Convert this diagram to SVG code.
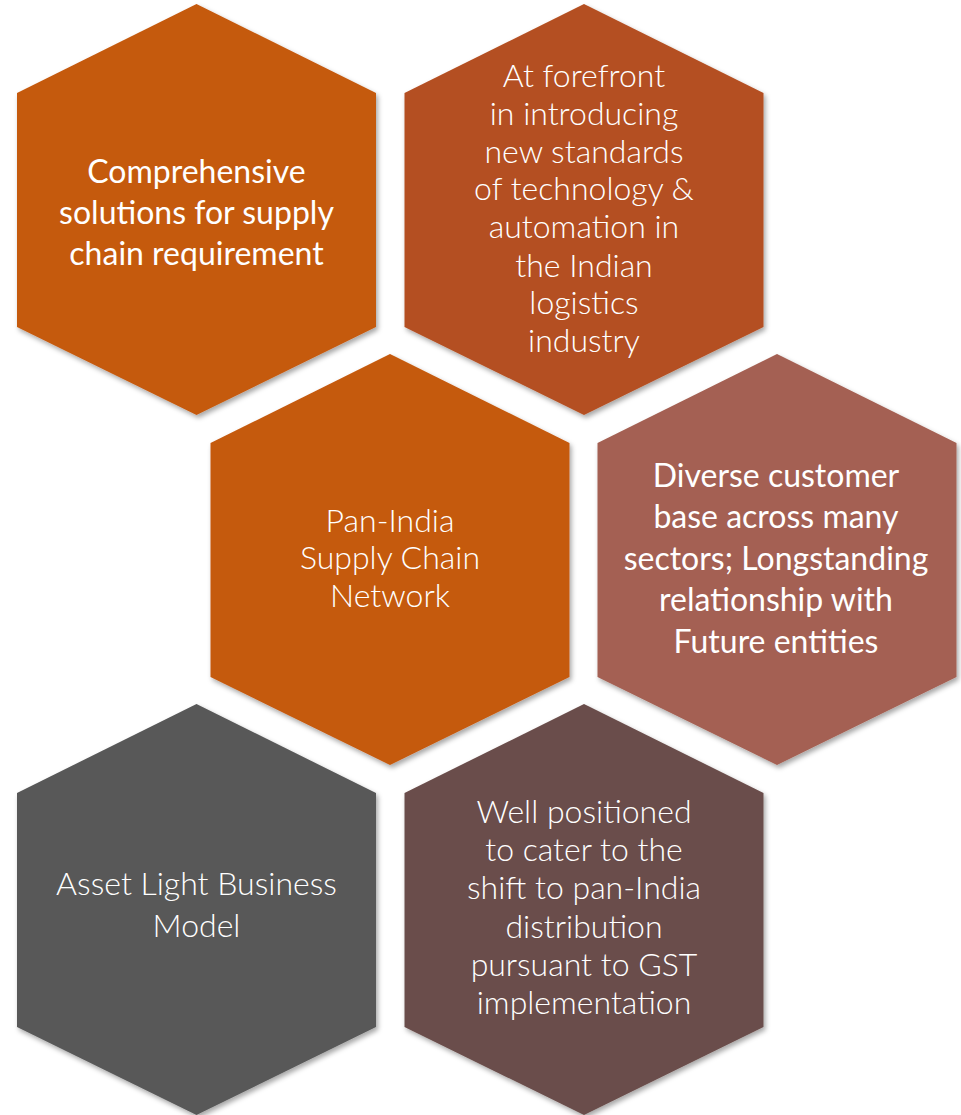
<svg xmlns="http://www.w3.org/2000/svg" xmlns:xlink="http://www.w3.org/1999/xlink" width="961" height="1115" viewBox="0 0 961 1115">
<defs>
<filter id="sh" x="-10%" y="-10%" width="120%" height="120%">
<feDropShadow dx="2" dy="3" stdDeviation="2.5" flood-color="#000" flood-opacity="0.35"/>
</filter>
<polygon id="hex" points="0,0 179.5,89 179.5,323 0,411 -179.5,323 -179.5,89"/>
</defs>
<style>
.t{fill:#ffffff;font-family:Lato,"Open Sans","Liberation Sans",sans-serif;font-size:32px;text-anchor:middle}
.l{font-weight:300}
.r{font-weight:400}
</style>
<rect width="961" height="1115" fill="#ffffff"/>
<g id="connectors"/>
<g id="n1">
<use xlink:href="#hex" x="196.5" y="4" fill="#C55A11" filter="url(#sh)"/>
<text class="t r"><tspan x="196.5" y="183">Comprehensive</tspan><tspan x="196.5" y="224">solutions for supply</tspan><tspan x="196.5" y="265">chain requirement</tspan></text>
</g>
<g id="n2">
<use xlink:href="#hex" x="584" y="4" fill="#B45022" filter="url(#sh)"/>
<text class="t l"><tspan x="584" y="87">At forefront</tspan><tspan x="584" y="125">in introducing</tspan><tspan x="584" y="163">new standards</tspan><tspan x="584" y="200">of technology &amp;</tspan><tspan x="584" y="238">automation in</tspan><tspan x="584" y="277">the Indian</tspan><tspan x="584" y="314">logistics</tspan><tspan x="584" y="352">industry</tspan></text>
</g>
<g id="n3">
<use xlink:href="#hex" x="390" y="354" fill="#C55A11" filter="url(#sh)"/>
<text class="t l"><tspan x="390" y="532">Pan-India</tspan><tspan x="390" y="569">Supply Chain</tspan><tspan x="390" y="607">Network</tspan></text>
</g>
<g id="n4">
<use xlink:href="#hex" x="777" y="354" fill="#A46052" filter="url(#sh)"/>
<text class="t r"><tspan x="776" y="487">Diverse customer</tspan><tspan x="776" y="528">base across many</tspan><tspan x="776" y="570">sectors; Longstanding</tspan><tspan x="776" y="611">relationship with</tspan><tspan x="776" y="653">Future entities</tspan></text>
</g>
<g id="n5">
<use xlink:href="#hex" x="196.5" y="704" fill="#595959" filter="url(#sh)"/>
<text class="t l"><tspan x="196.5" y="895">Asset Light Business</tspan><tspan x="196.5" y="937">Model</tspan></text>
</g>
<g id="n6">
<use xlink:href="#hex" x="584" y="704" fill="#6B4E4B" filter="url(#sh)"/>
<text class="t l"><tspan x="584" y="823">Well positioned</tspan><tspan x="584" y="861">to cater to the</tspan><tspan x="584" y="899">shift to pan-India</tspan><tspan x="584" y="938">distribution</tspan><tspan x="584" y="976">pursuant to GST</tspan><tspan x="584" y="1014">implementation</tspan></text>
</g>
</svg>
